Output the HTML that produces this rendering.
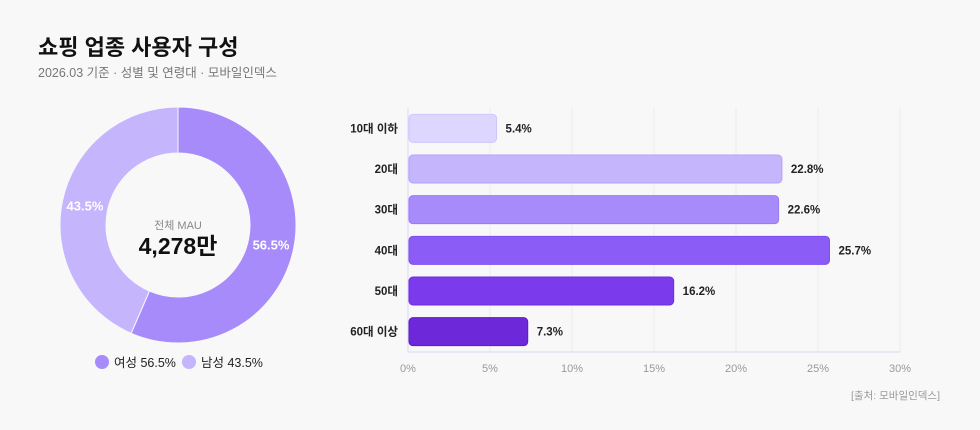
<!DOCTYPE html>
<html><head><meta charset="utf-8"><style>
body{margin:0;background:#f8f8f8;width:980px;height:425px;overflow:hidden;font-family:"Liberation Sans","Noto Sans CJK KR",sans-serif}
svg text{font-family:"Liberation Sans","Noto Sans CJK KR",sans-serif}
</style></head><body>
<svg id="c" width="980" height="425">
<text x="38" y="55" font-size="22" font-weight="700" fill="#111">쇼핑 업종 사용자 구성</text>
<text x="38" y="77" font-size="12.5" fill="#777">2026.03 기준 · 성별 및 연령대 · 모바일인덱스</text>
<g id="donut"></g>
<g id="bars"></g>
<text x="940" y="399" font-size="10.5" fill="#999" text-anchor="end">[출처: 모바일인덱스]</text>
</svg>
<script>
const genderLabels=["여성","남성"];
const genderValues=[56.5,43.5];
const genderColors=["#a78bfa","#c4b5fd"];
const ageCats=["10대 이하","20대","30대","40대","50대","60대 이상"];
const ageValues=[5.4,22.8,22.6,25.7,16.2,7.3];
const ageColors=["#ddd6fe","#c4b5fd","#a78bfa","#8b5cf6","#7c3aed","#6d28d9"];
const ageStroke=["#d0c6fb","#b5a3fb","#9a7bf6","#7c4ff0","#6d2fe0","#5b21b6"];
const xTicks=[0,5,10,15,20,25,30];
const NS="http://www.w3.org/2000/svg";
function mk(p,t,a){const e=document.createElementNS(NS,t);for(const k in a)e.setAttribute(k,a[k]);p.appendChild(e);return e;}
// donut
const D=document.getElementById('donut');const cx=178,cy=225,R=118,r=72;
const tot=genderValues.reduce((a,b)=>a+b,0);let acc=0;
function pt(rad,f){const a=f*2*Math.PI;return [cx+rad*Math.sin(a),cy-rad*Math.cos(a)];}
genderValues.forEach((v,i)=>{const f0=acc/tot,f1=(acc+v)/tot;acc+=v;
const [x0,y0]=pt(R,f0),[x1,y1]=pt(R,f1),[x2,y2]=pt(r,f1),[x3,y3]=pt(r,f0);const lg=(f1-f0)>0.5?1:0;
const p=mk(D,'path',{d:`M${x0},${y0}A${R},${R} 0 ${lg} 1 ${x1},${y1}L${x2},${y2}A${r},${r} 0 ${lg} 0 ${x3},${y3}Z`,fill:genderColors[i],stroke:'#f8f8f8','stroke-width':1});


const [lx,ly]=pt(95,(f0+f1)/2);
const t=mk(D,'text',{x:lx,y:ly+5,'font-size':13,'font-weight':700,fill:'#fff','text-anchor':'middle'});t.textContent=v+'%';


const lgx=i==0?102:189;
const c=mk(D,'circle',{cx:lgx,cy:362,r:7,fill:genderColors[i]});


const lt=mk(D,'text',{x:lgx+12,y:367,'font-size':12.5,fill:'#222'});lt.textContent=genderLabels[i]+' '+v+'%';


});
const ct1=mk(D,'text',{x:cx,y:229,'font-size':11,fill:'#888','text-anchor':'middle'});ct1.textContent='전체 MAU';


const ct2=mk(D,'text',{x:cx,y:254,'font-size':23,'font-weight':700,fill:'#111','text-anchor':'middle'});ct2.textContent='4,278만';


// bars
const B=document.getElementById('bars');const bx0=408,bx1=900,xmax=30;const xs=v=>bx0+(bx1-bx0)*v/xmax;
const yTop=108,yBottom=352,step=(yBottom-yTop)/ageCats.length,bh=28;
xTicks.forEach(t=>{const g=mk(B,'line',{x1:xs(t),x2:xs(t),y1:yTop,y2:yBottom,stroke:t==0?'#ddd6fe':'#ececec','stroke-width':1});


const tl=mk(B,'text',{x:xs(t),y:372,'font-size':11,fill:'#999','text-anchor':'middle'});tl.textContent=t+'%';

});
const ax=mk(B,'line',{x1:bx0,x2:bx1,y1:yBottom,y2:yBottom,stroke:'#e4e0f5','stroke-width':1.5});


ageCats.forEach((c,i)=>{const yc=yTop+step*(i+0.5);
const rc=mk(B,'rect',{x:bx0+1,y:yc-bh/2,width:xs(ageValues[i])-bx0-1,height:bh,rx:4,fill:ageColors[i],stroke:ageStroke[i],'stroke-width':1});


const cl=mk(B,'text',{x:398,y:yc+4,'font-size':11.5,'font-weight':700,fill:'#222','text-anchor':'end'});cl.textContent=c;


const vl=mk(B,'text',{x:xs(ageValues[i])+9,y:yc+4,'font-size':11.5,'font-weight':700,fill:'#222'});vl.textContent=ageValues[i]+'%';

});
</script>
</body></html>
